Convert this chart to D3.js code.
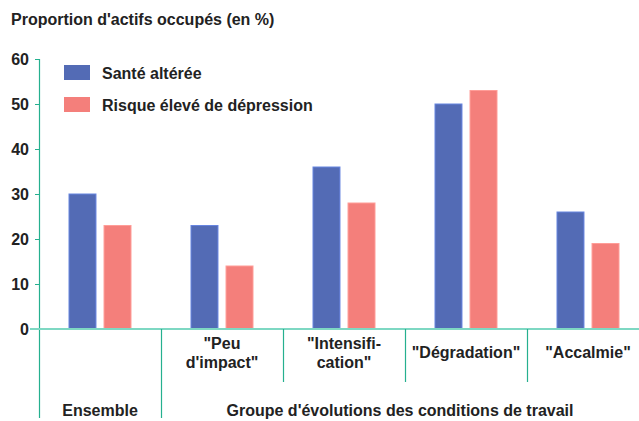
<!DOCTYPE html>
<html>
<head>
<meta charset="utf-8">
<script src="https://cdn.jsdelivr.net/npm/d3@7"></script>
<style>
  body { margin: 0; background: #fff; }
  text { font-family: "Liberation Sans", Arial, sans-serif; font-weight: bold; fill: #222; }
</style>
</head>
<body>
<div id="chart"></div>
<script>
// Data
const groups = ["Ensemble", "\"Peu d'impact\"", "\"Intensification\"", "\"Dégradation\"", "\"Accalmie\""];
const groupLines = [[], ["\"Peu", "d'impact\""], ["\"Intensifi-", "cation\""], ["\"Dégradation\""], ["\"Accalmie\""]];
const series = ["Santé altérée", "Risque élevé de dépression"];
const santeAlteree = [30, 23, 36, 50, 26];
const risqueDepression = [23, 14, 28, 53, 19];
const yTicks = [0, 10, 20, 30, 40, 50, 60];
const colors = ["#536bb5", "#f47f7b"];

const width = 639;
const height = 421;

const svg = d3.select("#chart").append("svg")
  .attr("width", width)
  .attr("height", height);

// Scales
const x = d3.scaleBand().domain(groups).range([39, 649]).paddingInner(0).paddingOuter(0);
const y = d3.scaleLinear().domain([0, 60]).range([329, 59]);
const inner = d3.scaleBand().domain(series).range([30, 92]).paddingInner(0.23).paddingOuter(0);

// Title
svg.append("text")
  .attr("x", 11).attr("y", 25)
  .style("font-size", "16px")
  .text("Proportion d'actifs occupés (en %)");

// Bars
const data = groups.map((g, i) => ({ group: g, values: [santeAlteree[i], risqueDepression[i]] }));
const gGroup = svg.selectAll(".grp").data(data).join("g")
  .attr("class", "grp")
  .attr("transform", d => `translate(${x(d.group)},0)`);

gGroup.selectAll("rect")
  .data(d => d.values.map((v, j) => ({ s: series[j], v: v, c: colors[j] })))
  .join("rect")
  .attr("x", d => inner(d.s))
  .attr("y", d => y(d.v))
  .attr("width", inner.bandwidth())
  .attr("height", d => y(0) - y(d.v))
  .attr("fill", d => d.c)
  .attr("stroke", d => d3.color(d.c).brighter(0.6))
  .attr("stroke-width", 1);

// Y axis
const yAxis = svg.append("g")
  .attr("transform", "translate(39,0)")
  .call(d3.axisLeft(y).tickValues(yTicks).tickSize(4).tickPadding(6));
yAxis.select(".domain").remove();
yAxis.selectAll(".tick line").attr("stroke", "#25b08f");
yAxis.selectAll(".tick text")
  .style("font-size", "16px")
  .style("font-family", "'Liberation Sans', Arial, sans-serif")
  .style("font-weight", "bold")
  .attr("fill", "#222");

svg.append("line")
  .attr("x1", 39.5).attr("x2", 39.5)
  .attr("y1", y(60)).attr("y2", 418)
  .attr("stroke", "#25b08f").attr("stroke-width", 1.2);

// Baseline
svg.append("line")
  .attr("x1", 30).attr("x2", width)
  .attr("y1", y(0)).attr("y2", y(0))
  .attr("stroke", "#7ed8c3").attr("stroke-width", 2);

// Separators
groups.slice(1).forEach((g, i) => {
  svg.append("line")
    .attr("x1", x(g) + 0.5).attr("x2", x(g) + 0.5)
    .attr("y1", y(0)).attr("y2", i === 0 ? 418 : 382)
    .attr("stroke", "#25b08f").attr("stroke-width", 1.2);
});

// Category labels
groups.forEach((g, i) => {
  const lines = groupLines[i];
  if (!lines.length) return;
  const cx = i === 4 ? 588 : x(g) + x.bandwidth() / 2;
  const y0 = lines.length === 2 ? 349 : 358;
  lines.forEach((l, k) => {
    svg.append("text")
      .attr("x", cx).attr("y", y0 + k * 19)
      .attr("text-anchor", "middle")
      .style("font-size", "16px")
      .text(l);
  });
});

svg.append("text")
  .attr("x", x(groups[0]) + x.bandwidth() / 2).attr("y", 416)
  .attr("text-anchor", "middle")
  .style("font-size", "16px")
  .text("Ensemble");

svg.append("text")
  .attr("x", (x(groups[1]) + width) / 2).attr("y", 416)
  .attr("text-anchor", "middle")
  .style("font-size", "16px")
  .text("Groupe d'évolutions des conditions de travail");

// Legend
const legend = svg.append("g").attr("transform", "translate(64,65)");
series.forEach((s, i) => {
  legend.append("rect")
    .attr("x", 0).attr("y", i * 32)
    .attr("width", 26).attr("height", 15)
    .attr("fill", colors[i]);
  legend.append("text")
    .attr("x", 38).attr("y", i * 32 + 14)
    .style("font-size", "16px")
    .text(s);
});
</script>
</body>
</html>
